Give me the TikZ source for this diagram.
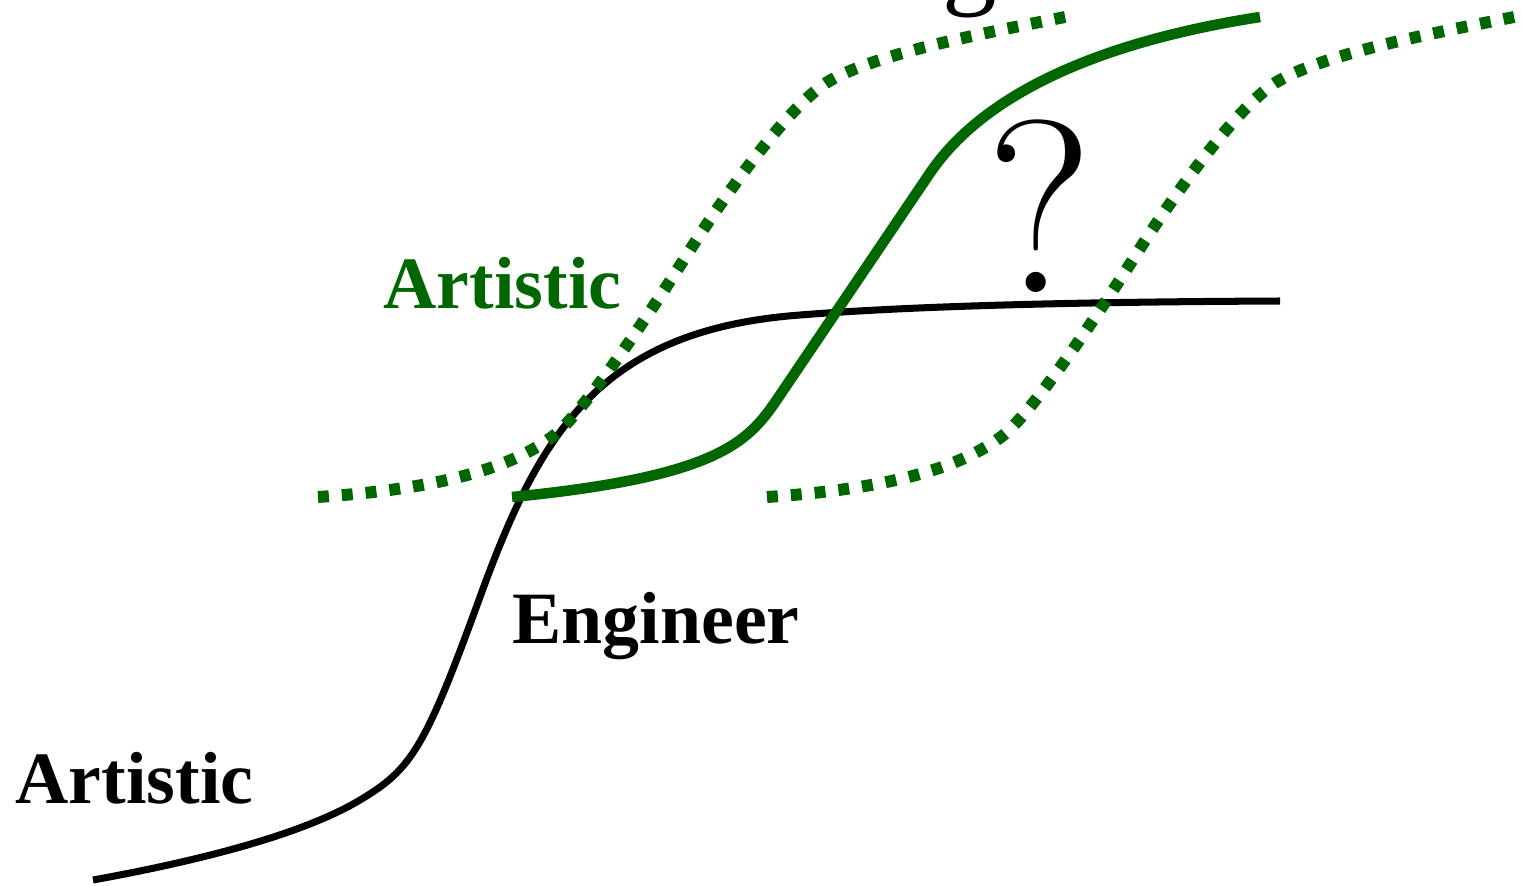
\documentclass[tikz,border=0pt]{standalone}
\usepackage{fontspec}
\setmainfont{Liberation Serif}
\newfontfamily\qmfont{Latin Modern Roman}
\usepackage{tikz}
\usetikzlibrary{positioning,calc}
\definecolor{artgreen}{HTML}{006600}
\tikzset{
  % kurvor
  eng/.style={draw=black,line width=2pt,line cap=butt},
  art/.style={draw=artgreen,line width=3pt,line cap=butt},
  band/.style={draw=artgreen,line width=3.4pt,line cap=butt,
               dash pattern=on 3.1pt off 3.7pt},
  % texter
  lbl/.style={inner sep=0pt,font=\fontsize{21}{25}\selectfont\bfseries},
}
\begin{document}
\begin{tikzpicture}
\useasboundingbox (0,0) rectangle (15.21,8.85);
  % svart kurva
  \draw[eng] (0.93,0.05) .. controls (2.2,0.28) and (3.1,0.55) .. (3.6,0.85)
    .. controls (4.12,1.16) and (4.25,1.37) .. (4.8,2.88)
    .. controls (5.4,4.53) and (6.0,5.55) .. (8.0,5.70)
    .. controls (9.0,5.78) and (10.5,5.83) .. (12.80,5.84);
  % gr\"on kurva
  \draw[art] (5.12,3.88) .. controls (7.255,4.09) and (7.5,4.456) .. (7.80,4.90)
    -- (9.30,7.12)
    .. controls (9.7,7.71) and (10.6,8.37) .. (12.60,8.68);
  % band
  \foreach \dx/\tl in {0/0.01,4.49/0.4}
    \draw[band,xshift=\dx cm] (3.18,3.88)
      .. controls (4.2,3.95) and (5.02,4.11) .. (5.52,4.48)
      .. controls (5.82,4.70) and (6.5,5.72) .. (6.9,6.35)
      .. controls (7.25,6.90) and (7.91,7.83) .. (8.31,8.05)
      .. controls (8.81,8.325) and (9.85,8.52) .. (10.65,8.68)
      -- ++(\tl,0.2*\tl);
  \node[lbl,anchor=base west,text=artgreen] (artup) at (3.83,5.77) {Artistic};
  \node[lbl,anchor=base west] (artlow) at (0.15,0.82) {Artistic};
  \node[lbl,anchor=base west] (engr) at (5.12,2.42) {Engineer};
  \node[inner sep=0pt,anchor=base,font=\qmfont\fontsize{70}{80}\selectfont] (qm) at (10.40,5.93) {?};
  \node[inner sep=0pt,anchor=base,font=\fontsize{31}{36}\selectfont] (gtop) at (9.70,8.91) {g};
\end{tikzpicture}
\end{document}
